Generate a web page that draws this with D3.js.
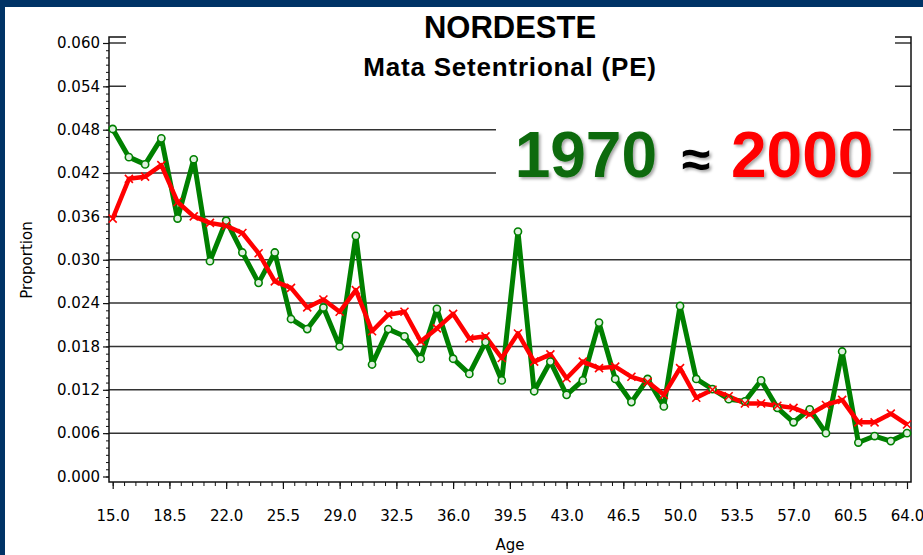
<!DOCTYPE html>
<html>
<head>
<meta charset="utf-8">
<script src="https://cdn.jsdelivr.net/npm/d3@7"></script>
<style>
html,body{margin:0;padding:0;background:#fff;}
svg{display:block;}
</style>
</head>
<body>
<svg id="chart" width="923" height="555"></svg>
<script>
// ---- data ----
const ages = [15,16,17,18,19,20,21,22,23,24,25,26,27,28,29,30,31,32,33,34,35,36,37,38,39,40,41,42,43,44,45,46,47,48,49,50,51,52,53,54,55,56,57,58,59,60,61,62,63,64];
const prop1970 = [0.0481,0.0442,0.0432,0.0468,0.0357,0.0439,0.0298,0.0354,0.0310,0.0268,0.0310,0.0218,0.0204,0.0234,0.0180,0.0333,0.0155,
                  0.0204,0.0194,0.0163,0.0232,0.0163,0.0142,0.0186,0.0133,0.0339,0.0118,0.0159,0.0113,0.0133,0.0213,0.0135,0.0103,
                  0.0135,0.0097,0.0236,0.0135,0.0121,0.0107,0.0104,0.0133,0.0095,0.0075,0.0093,0.0060,0.0173,0.0047,0.0056,0.0049,0.0060];
const prop2000 = [0.0357,0.0412,0.0415,0.0431,0.0380,0.0360,0.0351,0.0347,0.0337,0.0309,0.0270,0.0261,0.0234,0.0245,0.0228,0.0258,0.0201,
                  0.0224,0.0228,0.0187,0.0205,0.0225,0.0191,0.0194,0.0164,0.0198,0.0159,0.0169,0.0136,0.0159,0.0150,0.0152,0.0138,
                  0.0131,0.0113,0.0150,0.0109,0.0120,0.0111,0.0101,0.0101,0.0098,0.0095,0.0086,0.0099,0.0106,0.0075,0.0075,0.0087,0.0072];
const xTickValues = [15.0,18.5,22.0,25.5,29.0,32.5,36.0,39.5,43.0,46.5,50.0,53.5,57.0,60.5,64.0];
const yTickValues = [0.000,0.006,0.012,0.018,0.024,0.030,0.036,0.042,0.048,0.054,0.060];
const titleText = "NORDESTE";
const subtitleText = "Mata Setentrional (PE)";
const xLabel = "Age";
const yLabel = "Proportion";

// ---- layout ----
const svg = d3.select("#chart");
const frame = {left:109, right:911, top:37, bottom:482};
const x = d3.scaleLinear().domain([15,64]).range([112.7,907]);
const y = d3.scaleLinear().domain([0,0.06]).range([476.5,43]);
const fontAxis = "'DejaVu Sans', sans-serif";
const fontTitle = "'Liberation Sans', Arial, sans-serif";

// background + navy border
svg.append("rect").attr("width",923).attr("height",555).attr("fill","#fff");
svg.append("rect").attr("x",0).attr("y",0).attr("width",923).attr("height",7).attr("fill","#003366");
svg.append("rect").attr("x",0).attr("y",0).attr("width",5).attr("height",555).attr("fill","#003366");

// gridlines
svg.append("g").selectAll("line").data(yTickValues.filter(v=>v>0))
  .join("line")
  .attr("x1",frame.left).attr("x2",frame.right)
  .attr("y1",d=>y(d)).attr("y2",d=>y(d))
  .attr("stroke","#333").attr("stroke-width",1.5);

// frame
svg.append("rect").attr("x",frame.left).attr("y",frame.top)
  .attr("width",frame.right-frame.left).attr("height",frame.bottom-frame.top)
  .attr("fill","none").attr("stroke","#111").attr("stroke-width",1.5);

// y axis
const yMinor = d3.range(0,0.0605,0.001);
const yAxisMinor = svg.append("g").attr("transform",`translate(${frame.left},0)`)
  .call(d3.axisLeft(y).tickValues(yMinor).tickSize(3).tickFormat(""));
yAxisMinor.select(".domain").remove();
yAxisMinor.selectAll("line").attr("stroke","#111");
const yAxis = svg.append("g").attr("transform",`translate(${frame.left},0)`)
  .call(d3.axisLeft(y).tickValues(yTickValues).tickSize(6).tickPadding(3).tickFormat(d3.format(".3f")));
yAxis.select(".domain").remove();
yAxis.selectAll("line").attr("stroke","#111").attr("stroke-width",1.2);
yAxis.selectAll("text").attr("font-family",fontAxis).attr("font-size","15px").attr("fill","#000");

// x axis
const xMinor = d3.range(0,71).map(i=>15+i*0.7);
const xAxisMinor = svg.append("g").attr("transform",`translate(0,${frame.bottom})`)
  .call(d3.axisBottom(x).tickValues(xMinor).tickSize(4).tickFormat(""));
xAxisMinor.select(".domain").remove();
xAxisMinor.selectAll("line").attr("stroke","#111");
const xAxis = svg.append("g").attr("transform",`translate(0,${frame.bottom})`)
  .call(d3.axisBottom(x).tickValues(xTickValues).tickSize(7).tickPadding(21).tickFormat(d3.format(".1f")));
xAxis.select(".domain").remove();
xAxis.selectAll("line").attr("stroke","#111").attr("stroke-width",1.2);
xAxis.selectAll("text").attr("font-family",fontAxis).attr("font-size","15px").attr("fill","#000");

// axis labels
svg.append("text").attr("x",510).attr("y",550).attr("text-anchor","middle")
  .attr("font-family",fontAxis).attr("font-size","15px").text(xLabel);
svg.append("text").attr("transform","translate(32,260) rotate(-90)").attr("text-anchor","middle")
  .attr("font-family",fontAxis).attr("font-size","15px").text(yLabel);

// title box (hides top frame/gridline behind the titles)
svg.append("rect").attr("x",126).attr("y",8).attr("width",769).attr("height",88).attr("fill","#fff");
svg.append("text").attr("x",510).attr("y",38).attr("text-anchor","middle")
  .attr("font-family",fontTitle).attr("font-weight","bold")
  .attr("font-size","31px").text(titleText);
svg.append("text").attr("x",510).attr("y",76).attr("text-anchor","middle")
  .attr("font-family",fontTitle).attr("font-weight","bold")
  .attr("font-size","26px").attr("letter-spacing","0.8px").text(subtitleText);

// lines
const line = d3.line().x((d,i)=>x(ages[i])).y(d=>y(d));
svg.append("path").datum(prop1970).attr("d",line)
  .attr("fill","none").attr("stroke","#008000").attr("stroke-width",5).attr("stroke-linejoin","round");
svg.append("path").datum(prop2000).attr("d",line)
  .attr("fill","none").attr("stroke","#ff0000").attr("stroke-width",4.5).attr("stroke-linejoin","round");

// markers
svg.append("g").selectAll("circle").data(prop1970).join("circle")
  .attr("cx",(d,i)=>x(ages[i])).attr("cy",d=>y(d)).attr("r",3.6)
  .attr("fill","#dff0df").attr("stroke","#008000").attr("stroke-width",1.6);
const s = 4;
svg.append("g").selectAll("path").data(prop2000).join("path")
  .attr("d",(d,i)=>{const cx=x(ages[i]), cy=y(d);
    return `M${cx-s},${cy-s}L${cx+s},${cy+s}M${cx-s},${cy+s}L${cx+s},${cy-s}`;})
  .attr("stroke","#ff0000").attr("stroke-width",1.6);

// big annotation box
const defs = svg.append("defs");
const f = defs.append("filter").attr("id","shadow").attr("x","-20%").attr("y","-20%").attr("width","140%").attr("height","140%");
f.append("feDropShadow").attr("dx",2).attr("dy",2).attr("stdDeviation",1.5).attr("flood-color","#000").attr("flood-opacity",0.35);
svg.append("rect").attr("x",496).attr("y",105).attr("width",397).attr("height",95).attr("fill","#fff");
const bigG = svg.append("g").attr("filter","url(#shadow)")
  .attr("font-family",fontTitle).attr("font-weight","bold");
bigG.append("text").attr("x",657).attr("y",177).attr("text-anchor","end")
  .attr("font-size","64px").attr("fill","#0a6b0a").text("1970");
bigG.append("text").attr("x",696).attr("y",177).attr("text-anchor","middle")
  .attr("font-size","52px").attr("fill","#000").text("≈");
bigG.append("text").attr("x",731).attr("y",177).attr("text-anchor","start")
  .attr("font-size","64px").attr("fill","#ff0000").text("2000");
</script>
</body>
</html>
